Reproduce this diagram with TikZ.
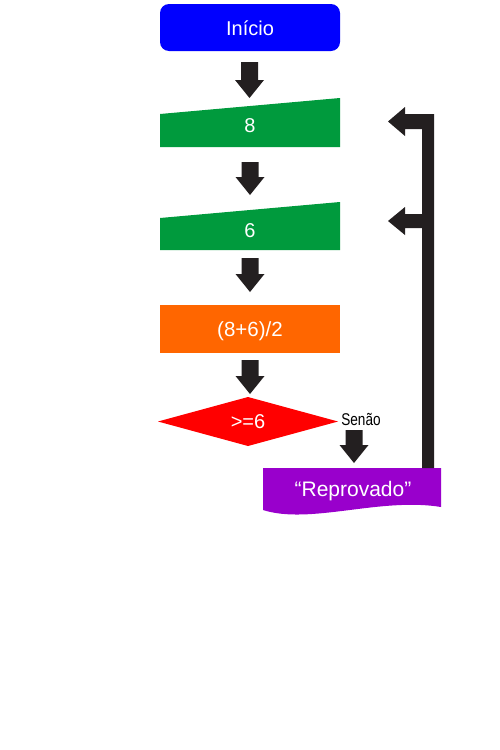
\documentclass[tikz,border=0pt]{standalone}
\usepackage{fontspec}
\setmainfont{Liberation Sans}
\usetikzlibrary{calc}
\definecolor{cblue}{RGB}{0,0,255}
\definecolor{cgreen}{RGB}{0,154,61}
\definecolor{corange}{RGB}{255,102,0}
\definecolor{cred}{RGB}{255,0,0}
\definecolor{cpurple}{RGB}{153,0,204}
\definecolor{carrow}{RGB}{35,31,32}
\tikzset{
  lbl/.style={text=white,font=\fontsize{20}{24}\selectfont,inner sep=0pt,anchor=base},
  shapefill/.style={fill=#1,draw=none},
  blockarrow/.style={fill=carrow,draw=none}
}
% block arrow pointing down from coordinate #1 (top of shaft) to #2 (tip)
\newcommand\downblock[2]{%
  \fill[blockarrow] let \p1=(#1), \p2=(#2) in
    (\x1-8.5pt,\y1) -- (\x1+8.5pt,\y1) -- (\x1+8.5pt,\y2+18pt) -- (\x1+14.5pt,\y2+18pt)
    -- (\x2,\y2) -- (\x1-14.5pt,\y2+18pt) -- (\x1-8.5pt,\y2+18pt) -- cycle;}
\begin{document}
\begin{tikzpicture}[x=1pt,y=-1pt]
\useasboundingbox (0,0) rectangle (500,750);
\fill[white] (0,0) rectangle (500,750);
% Inicio
\fill[cblue,rounded corners=9pt] (160,4) rectangle (340,51);
\node[lbl] (inicio) at (250,35) {Início};
% 8
\fill[shapefill=cgreen] (160,114) -- (340,98) -- (340,147) -- (160,147) -- cycle;
\node[lbl] (n8) at (250,132) {8};
% 6
\fill[shapefill=cgreen] (160,218) -- (340,202) -- (340,250) -- (160,250) -- cycle;
\node[lbl] (n6) at (250,237) {6};
% media
\fill[shapefill=corange] (160,305) rectangle (340,353);
\node[lbl,font=\fontsize{20.5}{24}\selectfont] (media) at (250,336) {(8+6)/2};
% decision
\fill[shapefill=cred] (158,421.5) -- (248,397) -- (338,421.5) -- (248,446) -- cycle;
\node[lbl] (dec) at (248,428) {>=6};
\node[inner sep=0pt,anchor=base,font=\fontsize{17}{20}\selectfont] (senao) at (361,425) {\scalebox{0.8}[1]{Senão}};
% Reprovado
\fill[shapefill=cpurple] (263,468) -- (441,468) -- (441,507) .. controls (380,497) and (310,525) .. (263,510) -- cycle;
\node[lbl,font=\fontsize{21}{24}\selectfont] (rep) at (353,496) {“Reprovado”};
% connectors
\coordinate (a1s) at (249.5,62); \coordinate (a1e) at (249.5,98);
\coordinate (a2s) at (250,162); \coordinate (a2e) at (250,195);
\coordinate (a3s) at (250,258); \coordinate (a3e) at (250,292);
\coordinate (a4s) at (250,360); \coordinate (a4e) at (250,394);
\coordinate (a5s) at (354,430); \coordinate (a5e) at (354,463);
\downblock{a1s}{a1e}
\downblock{a2s}{a2e}
\downblock{a3s}{a3e}
\downblock{a4s}{a4e}
\downblock{a5s}{a5e}
% feedback
\fill[blockarrow] (434,468) -- (434,114) -- (405,114) -- (405,107) -- (388,121.5) -- (405,136) -- (405,129)
  -- (422,129) -- (422,214) -- (405,214) -- (405,207) -- (388,221) -- (405,235) -- (405,228) -- (422,228)
  -- (422,468) -- cycle;
\end{tikzpicture}
\end{document}
